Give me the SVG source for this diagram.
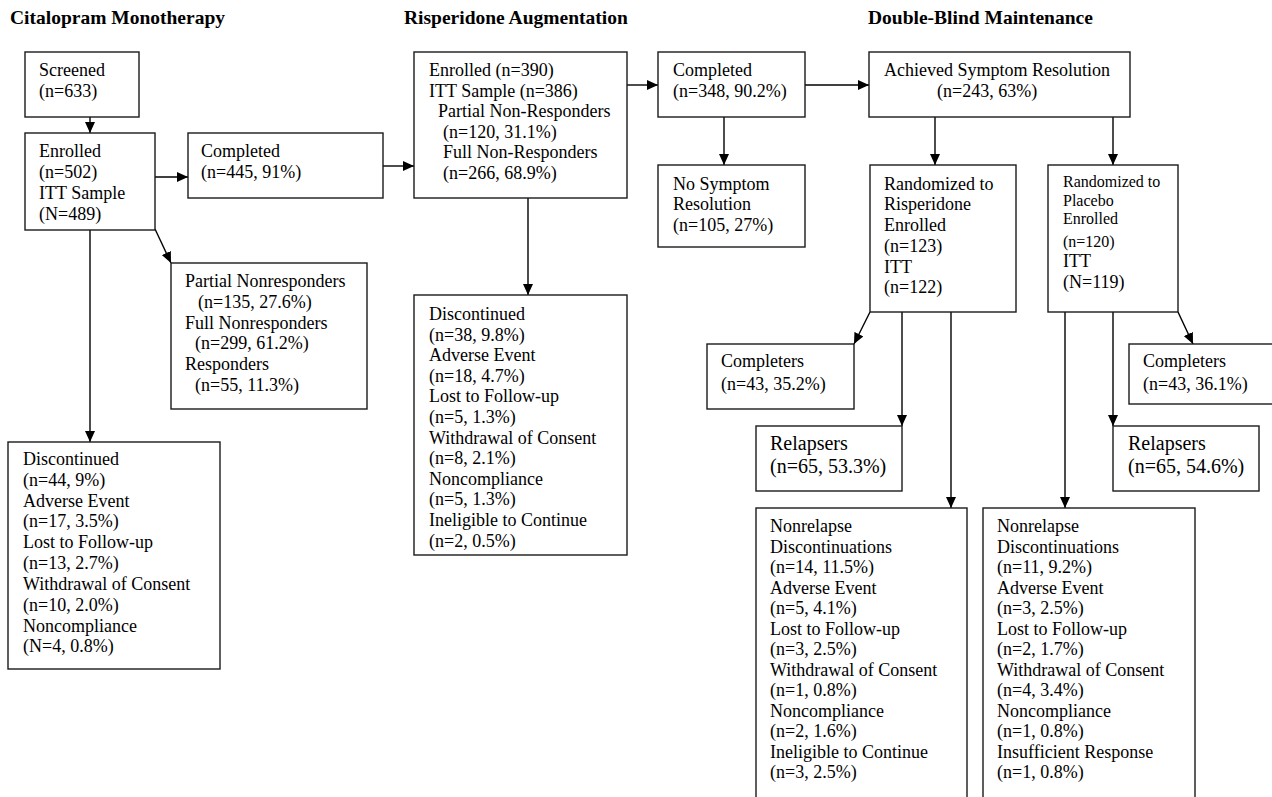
<svg xmlns="http://www.w3.org/2000/svg" width="1272" height="797" viewBox="0 0 1272 797">
<style>
text{font-family:"Liberation Serif","Times New Roman",serif;font-size:18px;fill:#000}
.t{font-weight:bold;font-size:19.5px}
.s{font-size:16px}
.r{font-size:20px}
rect{fill:#fff;stroke:#1a1a1a;stroke-width:1.4}
.c line{stroke:#000;stroke-width:1.4;marker-end:url(#ah)}
</style>
<defs>
<marker id="ah" markerUnits="userSpaceOnUse" markerWidth="11" markerHeight="10" refX="11" refY="5" orient="auto">
<path d="M0,0 L11,5 L0,10 z" fill="#000"/>
</marker>
</defs>
<rect x="0" y="0" width="1272" height="797" style="fill:#fff;stroke:none"/>
<g id="titles">
<text class="t" x="10" y="24">Citalopram Monotherapy</text>
<text class="t" x="404" y="24">Risperidone Augmentation</text>
<text class="t" x="868" y="24">Double-Blind Maintenance</text>
</g>
<g class="c" id="connectors">
<line x1="90" y1="117" x2="90" y2="133"/>
<line x1="155" y1="177" x2="188" y2="177"/>
<line x1="155" y1="229" x2="171" y2="263"/>
<line x1="90" y1="230" x2="90" y2="442"/>
<line x1="383" y1="166" x2="414" y2="166"/>
<line x1="627" y1="85" x2="658" y2="85"/>
<line x1="528" y1="198" x2="528" y2="295"/>
<line x1="724" y1="117" x2="724" y2="165"/>
<line x1="805" y1="85" x2="869" y2="85"/>
<line x1="935" y1="117" x2="935" y2="165"/>
<line x1="1113" y1="117" x2="1113" y2="165"/>
<line x1="870" y1="312" x2="854" y2="344"/>
<line x1="902" y1="312" x2="902" y2="426"/>
<line x1="951" y1="312" x2="951" y2="508"/>
<line x1="1065" y1="312" x2="1065" y2="508"/>
<line x1="1113" y1="312" x2="1113" y2="426"/>
<line x1="1178" y1="312" x2="1193" y2="344"/>
</g>
<g id="screened">
<rect x="25" y="52" width="114" height="65"/>
<text x="39" y="76">Screened</text>
<text x="39" y="97">(n=633)</text>
</g>
<g id="enrolled">
<rect x="25" y="133" width="130" height="97"/>
<text x="39" y="157">Enrolled</text>
<text x="39" y="178">(n=502)</text>
<text x="39" y="199">ITT Sample</text>
<text x="39" y="220">(N=489)</text>
</g>
<g id="completed1">
<rect x="188" y="133" width="195" height="65"/>
<text x="201" y="157">Completed</text>
<text x="201" y="178">(n=445, 91%)</text>
</g>
<g id="responders">
<rect x="171" y="263" width="196" height="146"/>
<text x="185" y="287">Partial Nonresponders</text>
<text x="198" y="308">(n=135, 27.6%)</text>
<text x="185" y="329">Full Nonresponders</text>
<text x="195" y="349">(n=299, 61.2%)</text>
<text x="185" y="370">Responders</text>
<text x="195" y="391">(n=55, 11.3%)</text>
</g>
<g id="discontinued1">
<rect x="8" y="442" width="212" height="227"/>
<text x="23" y="465">Discontinued</text>
<text x="23" y="486">(n=44, 9%)</text>
<text x="23" y="507">Adverse Event</text>
<text x="23" y="527">(n=17, 3.5%)</text>
<text x="23" y="548">Lost to Follow-up</text>
<text x="23" y="569">(n=13, 2.7%)</text>
<text x="23" y="590">Withdrawal of Consent</text>
<text x="23" y="611">(n=10, 2.0%)</text>
<text x="23" y="632">Noncompliance</text>
<text x="23" y="652">(N=4, 0.8%)</text>
</g>
<g id="risp-enrolled">
<rect x="414" y="52" width="213" height="146"/>
<text x="429" y="76">Enrolled (n=390)</text>
<text x="429" y="97">ITT Sample (n=386)</text>
<text x="438" y="117">Partial Non-Responders</text>
<text x="443" y="138">(n=120, 31.1%)</text>
<text x="443" y="158">Full Non-Responders</text>
<text x="443" y="179">(n=266, 68.9%)</text>
</g>
<g id="discontinued2">
<rect x="414" y="295" width="213" height="260"/>
<text x="429" y="320">Discontinued</text>
<text x="429" y="341">(n=38, 9.8%)</text>
<text x="429" y="361">Adverse Event</text>
<text x="429" y="382">(n=18, 4.7%)</text>
<text x="429" y="402">Lost to Follow-up</text>
<text x="429" y="423">(n=5, 1.3%)</text>
<text x="429" y="444">Withdrawal of Consent</text>
<text x="429" y="464">(n=8, 2.1%)</text>
<text x="429" y="485">Noncompliance</text>
<text x="429" y="505">(n=5, 1.3%)</text>
<text x="429" y="526">Ineligible to Continue</text>
<text x="429" y="547">(n=2, 0.5%)</text>
</g>
<g id="completed2">
<rect x="658" y="52" width="147" height="65"/>
<text x="673" y="76">Completed</text>
<text x="673" y="97">(n=348, 90.2%)</text>
</g>
<g id="no-resolution">
<rect x="658" y="165" width="147" height="82"/>
<text x="673" y="190">No Symptom</text>
<text x="673" y="210">Resolution</text>
<text x="673" y="231">(n=105, 27%)</text>
</g>
<g id="achieved">
<rect x="869" y="52" width="261" height="65"/>
<text x="884" y="76">Achieved Symptom Resolution</text>
<text x="937" y="97">(n=243, 63%)</text>
</g>
<g id="rand-risp">
<rect x="870" y="165" width="146" height="147"/>
<text x="884" y="190">Randomized to</text>
<text x="884" y="210">Risperidone</text>
<text x="884" y="231">Enrolled</text>
<text x="884" y="252">(n=123)</text>
<text x="884" y="273">ITT</text>
<text x="884" y="293">(n=122)</text>
</g>
<g id="rand-placebo">
<rect x="1048" y="165" width="130" height="147"/>
<text class="s" x="1063" y="187">Randomized to</text>
<text class="s" x="1063" y="206">Placebo</text>
<text class="s" x="1063" y="224">Enrolled</text>
<text class="s" x="1063" y="247">(n=120)</text>
<text x="1063" y="267">ITT</text>
<text x="1063" y="288">(N=119)</text>
</g>
<g id="completers-risp">
<rect x="707" y="344" width="147" height="65"/>
<text x="721" y="367">Completers</text>
<text x="721" y="390">(n=43, 35.2%)</text>
</g>
<g id="relapsers-risp">
<rect x="756" y="426" width="146" height="65"/>
<text class="r" x="770" y="450">Relapsers</text>
<text class="r" x="770" y="473">(n=65, 53.3%)</text>
</g>
<g id="completers-placebo">
<rect x="1129" y="344" width="145" height="60"/>
<text x="1143" y="367">Completers</text>
<text x="1143" y="390">(n=43, 36.1%)</text>
</g>
<g id="relapsers-placebo">
<rect x="1113" y="426" width="146" height="65"/>
<text class="r" x="1128" y="450">Relapsers</text>
<text class="r" x="1128" y="473">(n=65, 54.6%)</text>
</g>
<g id="nonrelapse-risp">
<rect x="756" y="508" width="211" height="300"/>
<text x="770" y="532">Nonrelapse</text>
<text x="770" y="553">Discontinuations</text>
<text x="770" y="573">(n=14, 11.5%)</text>
<text x="770" y="594">Adverse Event</text>
<text x="770" y="614">(n=5, 4.1%)</text>
<text x="770" y="635">Lost to Follow-up</text>
<text x="770" y="655">(n=3, 2.5%)</text>
<text x="770" y="676">Withdrawal of Consent</text>
<text x="770" y="696">(n=1, 0.8%)</text>
<text x="770" y="717">Noncompliance</text>
<text x="770" y="737">(n=2, 1.6%)</text>
<text x="770" y="758">Ineligible to Continue</text>
<text x="770" y="778">(n=3, 2.5%)</text>
</g>
<g id="nonrelapse-placebo">
<rect x="983" y="508" width="212" height="300"/>
<text x="997" y="532">Nonrelapse</text>
<text x="997" y="553">Discontinuations</text>
<text x="997" y="573">(n=11, 9.2%)</text>
<text x="997" y="594">Adverse Event</text>
<text x="997" y="614">(n=3, 2.5%)</text>
<text x="997" y="635">Lost to Follow-up</text>
<text x="997" y="655">(n=2, 1.7%)</text>
<text x="997" y="676">Withdrawal of Consent</text>
<text x="997" y="696">(n=4, 3.4%)</text>
<text x="997" y="717">Noncompliance</text>
<text x="997" y="737">(n=1, 0.8%)</text>
<text x="997" y="758">Insufficient Response</text>
<text x="997" y="778">(n=1, 0.8%)</text>
</g>
</svg>
